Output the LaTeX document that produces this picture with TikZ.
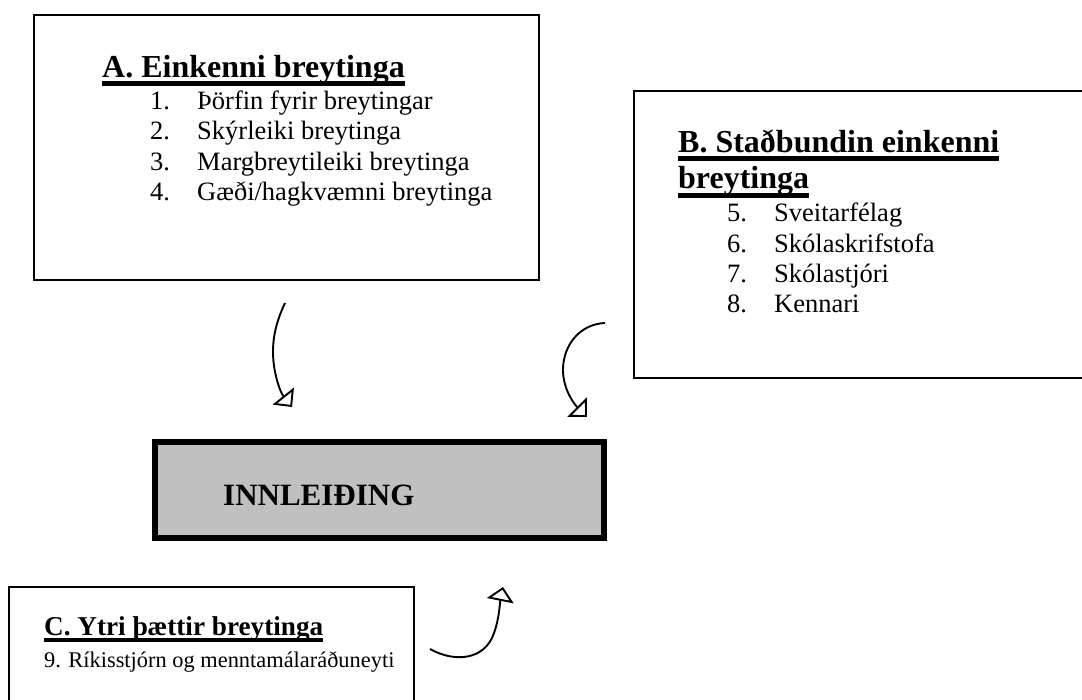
\documentclass[tikz,border=0pt]{standalone}
\usepackage{fontspec}
\setmainfont{Liberation Serif}
\usetikzlibrary{arrows.meta}
\tikzset{
  box/.style={draw=black, line width=2pt},
  mainbox/.style={draw=black, line width=5.5pt, fill={rgb,255:red,192;green,192;blue,192}},
  ttl/.style={anchor=base west, inner sep=0pt, font=\fontsize{32}{38}\selectfont\bfseries},
  ttlc/.style={anchor=base west, inner sep=0pt, font=\fontsize{27.2}{32}\selectfont\bfseries},
  itm/.style={anchor=base west, inner sep=0pt, font=\fontsize{26.5}{31}\selectfont},
  itmc/.style={anchor=base west, inner sep=0pt, font=\fontsize{22.4}{27}\selectfont},
  ul/.style={line width=5pt},
  curvarrow/.style={line width=1.9pt, -{Triangle[open,length=14pt,width=27pt,line width=1.9pt]}},
}
\begin{document}
\begin{tikzpicture}[x=1pt,y=-1pt]
\useasboundingbox (0,0) rectangle (1082,700);
\clip (0,0) rectangle (1082,700);

% Box A
\draw[box] (34,15) rectangle (539,280);
\node[ttl] (tA) at (102,78) {A. Einkenni breytinga};
\draw[ul] ([yshift=-5.5pt]tA.base west) -- ([yshift=-5.5pt]tA.base east);
\node[itm] (n1) at (150,110) {1.};
\node[itm] (i1) at (197,110) {Þörfin fyrir breytingar};
\node[itm] (n2) at (150,140) {2.};
\node[itm] (i2) at (197,140) {Skýrleiki breytinga};
\node[itm] (n3) at (150,171) {3.};
\node[itm] (i3) at (197,171) {Margbreytileiki breytinga};
\node[itm] (n4) at (150,201) {4.};
\node[itm] (i4) at (197,201) {Gæði/hagkvæmni breytinga};

% Box B
\draw[box, line width=2.5pt] (634,91) rectangle (1095,378);
\node[ttl] (tB1) at (678,153) {B. Staðbundin einkenni};
\draw[ul] ([yshift=-5.5pt]tB1.base west) -- ([yshift=-5.5pt]tB1.base east);
\node[ttl] (tB2) at (678,189) {breytinga};
\draw[ul] ([yshift=-6.5pt]tB2.base west) -- ([yshift=-6.5pt]tB2.base east);
\node[itm] (n5) at (727,222) {5.};
\node[itm] (i5) at (774,222) {Sveitarfélag};
\node[itm] (n6) at (727,253) {6.};
\node[itm] (i6) at (774,253) {Skólaskrifstofa};
\node[itm] (n7) at (727,283) {7.};
\node[itm] (i7) at (774,283) {Skólastjóri};
\node[itm] (n8) at (727,313) {8.};
\node[itm] (i8) at (774,313) {Kennari};

% Main box
\draw[mainbox] (155,442) rectangle (604,538);
\node[anchor=base west, inner sep=0pt, font=\fontsize{31}{36}\selectfont\bfseries] (inn) at (223,505) {INNLEIÐING};

% Box C
\draw[box, line width=1.8pt] (9,587) rectangle (414,715);
\node[ttlc] (tC) at (44,635) {C. Ytri þættir breytinga};
\draw[ul, line width=4.5pt] ([yshift=-5pt]tC.base west) -- ([yshift=-5pt]tC.base east);
\node[itmc] (i9) at (44,667) {9. Ríkisstjórn og menntamálaráðuneyti};

% Curved arrows
\coordinate (a1s) at (285,303);
\coordinate (a1m) at (273,352);
\coordinate (a1e) at (292,407);
\draw[curvarrow] (a1s) .. controls (277,320) and (273,335) .. (a1m) .. controls (273,372) and (280,392) .. (a1e);

\coordinate (a2s) at (605,323);
\coordinate (a2m) at (563,370);
\coordinate (a2e) at (587,417);
\draw[curvarrow] (a2s) .. controls (580,324) and (563,345) .. (a2m) .. controls (563,390) and (575,405) .. (a2e);

\coordinate (a3s) at (430,649);
\coordinate (a3m) at (494,633);
\coordinate (a3e) at (503,587);
\draw[curvarrow] (a3s) .. controls (455,663) and (485,660) .. (a3m) .. controls (499,620) and (500,602) .. (a3e);
\end{tikzpicture}
\end{document}
